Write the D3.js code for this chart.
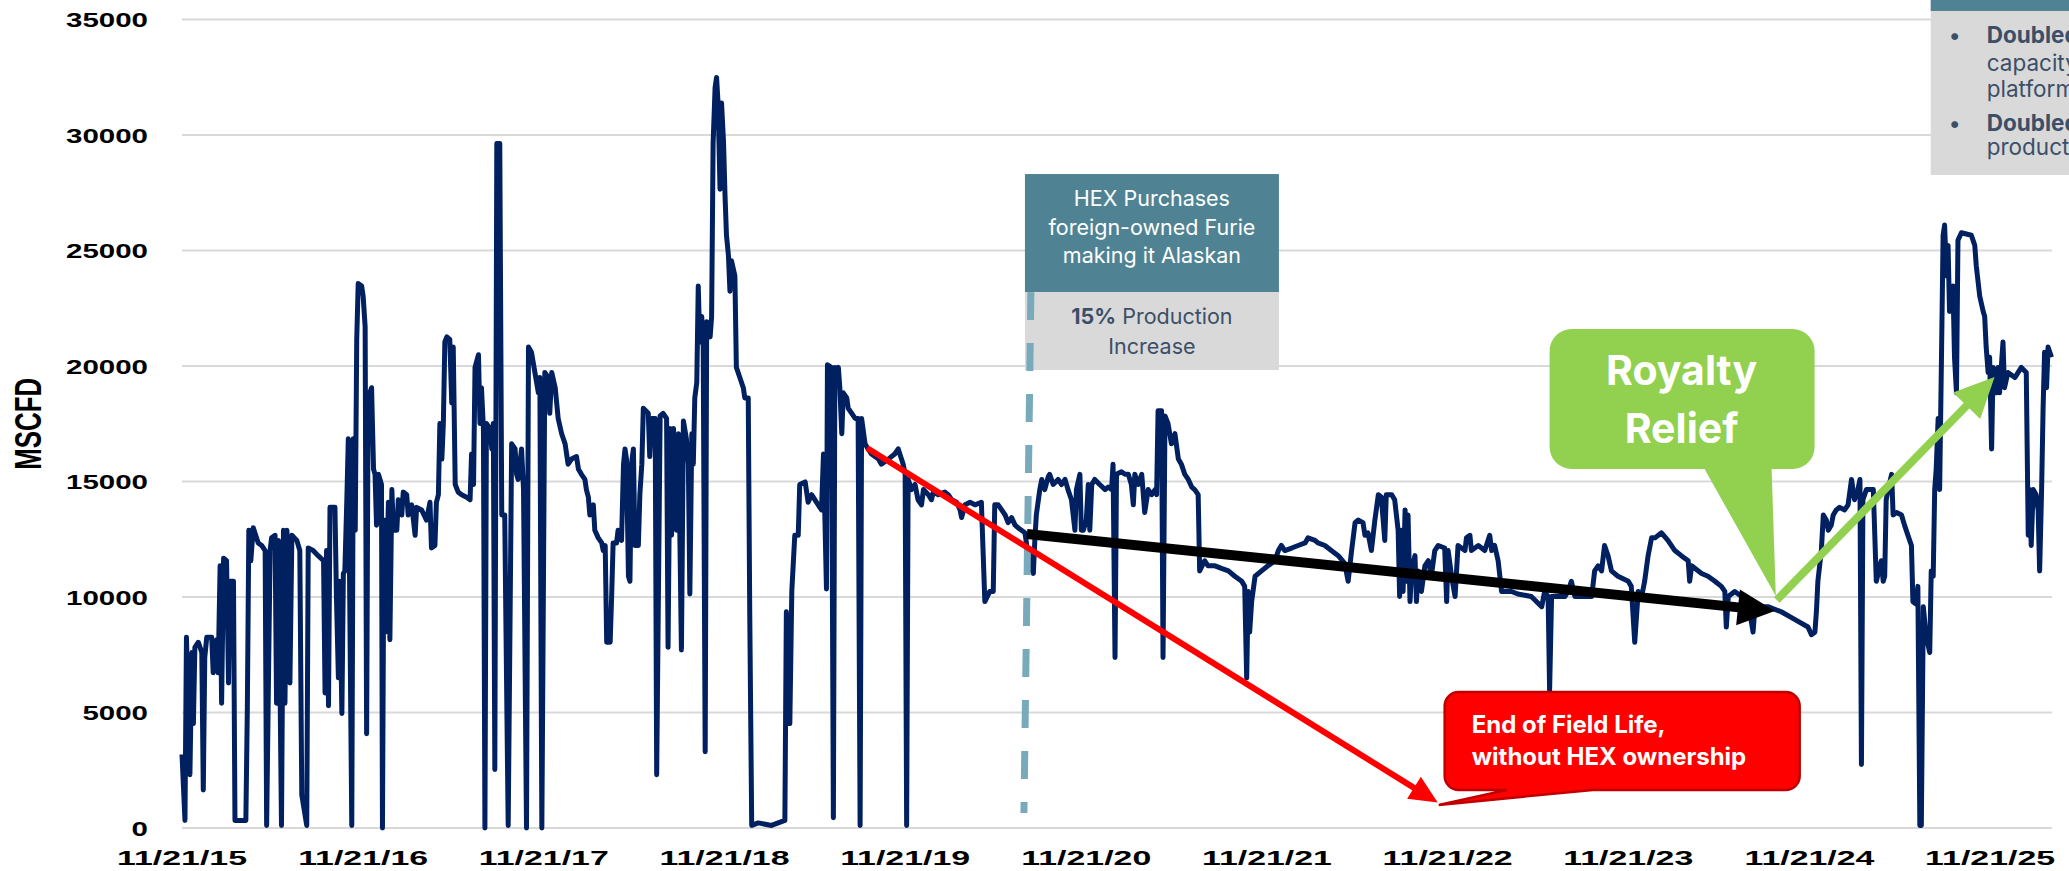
<!DOCTYPE html>
<html>
<head>
<meta charset="utf-8">
<script src="https://cdn.jsdelivr.net/npm/d3@7"></script>
<style>
  html, body { margin:0; padding:0; background:#fff; overflow:hidden; }
  svg { display:block; }
</style>
</head>
<body>
<div id="chart"></div>
<script>
// x values are days counted from 11/21/15, y values in MSCFD
var startLabel = "11/21/15";
var lastDay = 3778;
var tickLabels = ["11/21/15","11/21/16","11/21/17","11/21/18","11/21/19","11/21/20",
                  "11/21/21","11/21/22","11/21/23","11/21/24","11/21/25"];
var yTicks = [0,5000,10000,15000,20000,25000,30000,35000];

var dailyFlow = [
  [0,3190],[6,330],[9,8260],[16,2310],[20,7600],[23,4520],[26,7820],[33,8040],[40,7600],[43,1650],
  [46,7380],[50,8260],[60,8260],[63,6720],[70,8150],[73,6720],[77,11350],[80,5400],[84,11680],[90,11570],
  [94,6280],[97,10680],[104,10680],[107,330],[114,330],[129,330],[132,5180],[135,12890],[139,11570],[144,13000],
  [154,12340],[161,12230],[168,12010],[171,110],[178,12010],[181,12560],[188,12670],[191,5400],[195,12450],[201,110],
  [205,12890],[208,5400],[212,12890],[218,6280],[222,12670],[232,12450],[238,12010],[242,1430],[252,110],[255,12120],
  [265,12010],[275,11790],[286,11570],[289,5840],[292,12010],[296,5290],[299,13880],[309,13880],[312,10020],[316,6500],
  [319,10680],[323,4960],[326,11020],[329,11130],[333,14210],[336,16850],[343,110],[346,16850],[350,12890],[353,21150],
  [356,23570],[363,23460],[366,23020],[370,21700],[373,4080],[376,18620],[383,19060],[387,15530],[390,15310],[393,13110],
  [397,15310],[403,14870],[405,0],[408,13330],[411,8480],[417,14100],[420,8150],[424,14650],[427,12890],[434,12890],
  [437,14210],[444,13550],[447,14540],[454,14430],[457,13550],[464,13990],[471,12670],[474,13880],[484,13770],[494,13330],
  [501,14100],[504,12120],[511,12230],[514,14100],[518,14430],[521,17510],[525,15970],[528,17510],[531,21040],[535,21260],
  [541,21150],[545,18400],[548,20820],[552,14870],[558,14540],[565,14430],[575,14320],[582,14210],[585,16190],[589,14870],
  [592,19940],[599,20490],[602,17510],[605,19060],[609,17290],[612,0],[615,17510],[622,17290],[626,16410],[629,17510],
  [632,2530],[636,29630],[642,29630],[646,13550],[652,13550],[659,110],[666,16630],[673,16410],[676,15310],[679,15090],
  [686,16410],[690,14650],[696,0],[700,20820],[706,20600],[713,19720],[720,18840],[723,19500],[727,0],
  [733,19720],[740,19500],[743,17950],[747,19720],[754,19060],[760,17730],[767,17070],[774,16630],[780,15750],[787,15970],
  [797,16080],[801,15530],[807,15310],[814,15090],[817,14650],[821,14320],[824,13550],[831,13990],[834,12890],[841,12560],
  [848,12340],[851,12010],[855,12230],[858,8040],[865,8040],[868,10020],[871,12340],[878,12340],[881,12890],[888,12450],
  [892,15750],[895,16410],[898,15970],[902,10900],[905,10680],[908,15750],[912,16410],[915,12230],[922,12230],[925,14430],
  [929,15750],[932,18170],[942,17950],[945,16080],[949,17730],[956,17730],[959,2310],[966,17840],[972,17950],[979,17730],
  [982,7820],[986,17290],[989,12670],[993,17290],[999,12890],[1003,17070],[1009,7710],[1013,17620],[1019,16850],[1023,15750],
  [1026,10130],[1030,17070],[1033,15750],[1036,18620],[1040,19280],[1043,23460],[1046,21040],[1050,22140],[1053,20820],[1057,3300],
  [1060,21920],[1067,21260],[1070,22140],[1073,29630],[1077,32050],[1080,32490],[1083,31390],[1087,27650],[1090,31390],[1094,29740],
  [1097,27430],[1100,25660],[1104,24780],[1107,23240],[1110,24560],[1117,23900],[1120,19940],[1127,19500],[1134,19060],[1137,18620],
  [1144,18620],[1147,9360],[1151,110],[1164,220],[1191,110],[1218,330],[1221,9360],[1228,4520],[1232,10240],[1238,12670],
  [1245,12670],[1248,14870],[1259,14980],[1265,14100],[1272,14430],[1282,14100],[1292,13770],[1296,16190],[1302,10350],[1304,20050],
  [1312,19940],[1316,440],[1319,19940],[1322,19280],[1326,19940],[1329,19060],[1333,17070],[1336,18840],[1343,18620],[1346,18170],
  [1353,17950],[1360,17730],[1366,17730],[1370,110],[1373,17730],[1380,16630],[1386,16410],[1393,16190],[1407,15970],[1413,15750],
  [1427,15970],[1440,16190],[1447,16410],[1457,15750],[1461,15310],[1464,110],[1467,15090],[1474,14650],[1481,14870],
  [1487,14210],[1494,13990],[1498,14650],[1508,14430],[1514,14210],[1518,14540],[1528,14430],[1541,14540],[1548,14430],[1555,14210],
  [1565,14100],[1572,13770],[1575,13440],[1582,13990],[1592,14100],[1602,13990],[1615,14100],[1622,9800],[1632,10240],[1639,10240],
  [1642,13990],[1649,13990],[1656,13770],[1663,13550],[1669,13220],[1676,13440],[1683,13110],[1689,13000],[1696,12890],[1703,12780],
  [1706,12340],[1710,11130],[1713,12010],[1716,11350],[1720,11020],[1723,12450],[1726,13550],[1733,14650],[1737,15090],[1743,14650],
  [1750,15200],[1753,15310],[1760,14870],[1770,15090],[1777,14870],[1784,15090],[1790,14650],[1797,14210],[1804,12890],[1807,14650],
  [1814,15310],[1817,12890],[1821,12890],[1827,13330],[1831,14870],[1834,12890],[1838,14870],[1844,15090],[1854,14870],[1865,14650],
  [1871,14760],[1878,14650],[1881,15750],[1885,7380],[1888,15310],[1898,15420],[1905,15310],[1912,15310],[1918,14870],[1922,13990],
  [1925,15310],[1932,14870],[1939,15310],[1945,13660],[1952,14650],[1959,14430],[1966,14650],[1969,14430],[1972,18060],[1979,18060],
  [1982,7380],[1986,17840],[1992,17510],[1999,16630],[2006,17070],[2013,15970],[2019,15750],[2026,15310],[2033,15090],[2040,14760],
  [2046,14650],[2053,14430],[2056,11130],[2066,11570],[2073,11350],[2087,11350],[2100,11240],[2114,11130],[2127,10900],[2141,10680],
  [2147,10460],[2151,6500],[2154,10240],[2157,8480],[2161,9800],[2168,10900],[2181,11130],[2194,11350],[2208,11570],[2215,12010],
  [2221,12230],[2228,12010],[2242,12120],[2255,12230],[2269,12340],[2275,12560],[2289,12450],[2295,12340],[2309,12230],[2322,12010],
  [2336,11790],[2349,11460],[2356,10680],[2363,12010],[2370,13220],[2376,13330],[2386,13220],[2390,12670],[2396,12780],[2403,12010],
  [2410,13330],[2417,14430],[2423,14320],[2430,12450],[2433,14430],[2444,14430],[2450,14210],[2457,12890],[2460,10020],[2464,12890],
  [2467,10240],[2471,13770],[2474,10680],[2477,13550],[2481,9800],[2484,11130],[2491,11790],[2494,9800],[2497,11130],[2504,10240],
  [2511,11350],[2518,11570],[2524,10900],[2531,12010],[2538,12230],[2551,12120],[2555,9800],[2558,12010],[2565,10900],[2572,10020],
  [2578,12230],[2592,12010],[2595,12560],[2602,12670],[2605,12010],[2619,12230],[2632,12010],[2642,12670],[2646,12010],[2652,12230],
  [2659,11570],[2666,10240],[2686,10240],[2699,10130],[2726,10020],[2747,9580],[2753,10240],[2760,10020],[2763,5950],[2767,10020],
  [2794,10020],[2800,10240],[2807,10680],[2814,10020],[2834,10020],[2848,10020],[2854,11130],[2861,11350],[2868,11130],[2874,12230],
  [2881,11790],[2888,11130],[2901,10900],[2922,10680],[2928,10460],[2935,8040],[2942,10240],[2949,10020],[2955,10680],[2962,11790],
  [2969,12560],[2976,12560],[2989,12780],[3002,12450],[3016,12010],[3029,11790],[3043,11570],[3046,10680],[3050,11350],[3070,11020],
  [3083,10900],[3097,10680],[3110,10460],[3117,10240],[3120,8700],[3124,10020],[3137,10240],[3151,10020],[3164,9800],[3174,8480],
  [3178,9580],[3204,9580],[3231,9360],[3258,9030],[3285,8700],[3292,8370],[3299,8480],[3302,9360],[3305,10680],[3312,12010],
  [3316,13550],[3322,13330],[3326,12890],[3332,13110],[3336,13550],[3342,13770],[3349,13880],[3359,13770],[3366,13990],[3373,15090],
  [3379,14210],[3386,14650],[3390,15090],[3393,2750],[3396,14210],[3403,14650],[3417,14650],[3423,10680],[3433,11570],[3437,10680],
  [3440,10900],[3443,14210],[3447,14650],[3454,15310],[3457,13550],[3464,13660],[3474,13550],[3480,13110],[3487,12670],[3494,12230],
  [3497,9800],[3504,9690],[3507,10460],[3511,110],[3514,110],[3518,9580],[3524,8260],[3531,7600],[3534,11130],[3538,10900],
  [3541,14650],[3544,15530],[3548,17730],[3551,14650],[3555,20820],[3558,25660],[3561,26100],[3565,23900],[3568,25220],[3571,22360],
  [3575,23020],[3578,23460],[3581,20380],[3585,18840],[3588,25440],[3595,25770],[3615,25660],[3622,25220],[3625,24340],[3632,23020],
  [3639,22360],[3642,22140],[3645,20820],[3649,19720],[3652,20380],[3656,16410],[3659,19940],[3666,18840],[3669,19940],[3672,18840],
  [3679,21040],[3682,19060],[3689,19720],[3703,19500],[3716,19940],[3726,19720],[3730,12670],[3733,14650],[3736,12230],[3740,14650],
  [3746,14430],[3750,13770],[3753,11130],[3757,14650],[3760,18170],[3763,20600],[3767,19060],[3770,20820],[3777,20380]
];

// trend arrows and markers, as [day, MSCFD]
var withoutHexTrend = [[1384,16450],[2537,1100]];
var withHexTrend = [[1707,12730],[3218,9390]];
var royaltyTrend = [[3222,9870],[3662,19520]];
var hexPurchase = [[1715,23200],[1701,650]];

var W = 2069, H = 871;
var margin = {top:19.5, right:17, bottom:43, left:182};

var svg = d3.select("#chart")
  .append("svg")
  .attr("width",W)
  .attr("height",H);

var parseDate = d3.timeParse("%m/%d/%y");
var t0 = parseDate(startLabel);
function dayDate(n){ return d3.timeDay.offset(t0, n); }

var x = d3.scaleTime()
  .domain([t0, dayDate(lastDay)])
  .range([margin.left, W - margin.right]);
var y = d3.scaleLinear()
  .domain([0,35000])
  .range([H - margin.bottom, margin.top]);

function px(p){ return [x(dayDate(p[0])), y(p[1])]; }

// gridlines
svg.append("g").selectAll("line.grid")
  .data(yTicks)
  .enter()
  .append("line")
  .attr("class","grid")
  .attr("x1",x.range()[0])
  .attr("x2",x.range()[1])
  .attr("y1",function(d){ return y(d); })
  .attr("y2",function(d){ return y(d); })
  .style("stroke","#d9d9d9")
  .style("stroke-width",2);

// y labels (the original picture is stretched sideways)
svg.append("g").selectAll("text.ylab")
  .data(yTicks)
  .enter()
  .append("text")
  .attr("class","ylab")
  .attr("x",148)
  .attr("y",function(d){ return y(d); })
  .attr("dy","0.36em")
  .attr("text-anchor","end")
  .attr("textLength",function(d){ return String(d).length*16.4; })
  .attr("lengthAdjust","spacingAndGlyphs")
  .style("font-family","'Liberation Sans', Arial, sans-serif")
  .style("font-weight","bold")
  .style("font-size","21px")
  .style("fill","#000")
  .text(function(d){ return d; });

// x labels
svg.append("g").selectAll("text.xlab")
  .data(tickLabels)
  .enter()
  .append("text")
  .attr("class","xlab")
  .attr("x",function(d){ return x(parseDate(d)); })
  .attr("y",865)
  .attr("text-anchor","middle")
  .attr("textLength",130)
  .attr("lengthAdjust","spacingAndGlyphs")
  .style("font-family","'Liberation Sans', Arial, sans-serif")
  .style("font-weight","bold")
  .style("font-size","21px")
  .style("fill","#000")
  .text(function(d){ return d; });

svg.append("text")
  .attr("transform","translate(41,"+((y.range()[0]+y.range()[1])/2)+") rotate(-90)")
  .attr("text-anchor","middle")
  .attr("textLength",92)
  .attr("lengthAdjust","spacingAndGlyphs")
  .style("font-family","'Liberation Sans Narrow', 'Liberation Sans', Arial, sans-serif")
  .style("font-weight","bold")
  .style("font-size","36px")
  .style("fill","#000")
  .text("MSCFD");

// production line
var line = d3.line()
  .x(function(d){ return x(dayDate(d[0])); })
  .y(function(d){ return y(d[1]); });

svg.append("path")
  .datum(dailyFlow)
  .attr("d",line)
  .style("fill","none")
  .style("stroke","#002060")
  .style("stroke-width",5)
  .style("stroke-linejoin","round");

// HEX purchase box
var boxFont = "Inter, 'Open Sans', sans-serif";
var hexTop = px([1703,28310]);
var hexG = svg.append("g").attr("transform","translate("+hexTop[0]+","+hexTop[1]+")");
hexG.append("rect").attr("width",254).attr("height",118).style("fill","#4f8393");
hexG.append("rect").attr("y",118).attr("width",254).attr("height",78).style("fill","#d9d9d9");
var hexLines = ["HEX Purchases","foreign-owned Furie","making it Alaskan"];
hexG.selectAll("text.hex")
  .data(hexLines)
  .enter()
  .append("text")
  .attr("x",127)
  .attr("y",function(d,i){ return 32 + i*28.5; })
  .attr("text-anchor","middle")
  .style("font-family",boxFont)
  .style("font-size","21.5px")
  .style("fill","#fff")
  .text(function(d){ return d; });
var pct = hexG.append("text")
  .attr("x",127).attr("y",150)
  .attr("text-anchor","middle")
  .style("font-family",boxFont)
  .style("font-size","21.5px")
  .style("fill","#3b4f68");
pct.append("tspan").style("font-weight","bold").text("15%");
pct.append("tspan").text(" Production");
hexG.append("text")
  .attr("x",127).attr("y",180)
  .attr("text-anchor","middle")
  .style("font-family",boxFont)
  .style("font-size","21.5px")
  .style("fill","#3b4f68")
  .text("Increase");

// dashed marker at the purchase
var hp0 = px(hexPurchase[0]), hp1 = px(hexPurchase[1]);
svg.append("line")
  .attr("x1",hp0[0]).attr("y1",hp0[1])
  .attr("x2",hp1[0]).attr("y2",hp1[1])
  .style("stroke","#79aabb")
  .style("stroke-width",7)
  .style("stroke-dasharray","28,23");

function arrow(pts, color, w, headLen, headW){
  var a = px(pts[0]), b = px(pts[1]);
  var dx = b[0]-a[0], dy = b[1]-a[1], L = Math.sqrt(dx*dx+dy*dy);
  var ux = dx/L, uy = dy/L;
  var bx = b[0]-ux*headLen, by = b[1]-uy*headLen;
  svg.append("line")
    .attr("x1",a[0]).attr("y1",a[1])
    .attr("x2",bx+ux*3).attr("y2",by+uy*3)
    .style("stroke",color)
    .style("stroke-width",w);
  svg.append("path")
    .attr("d","M"+b[0]+","+b[1]+
      "L"+(bx-uy*headW/2)+","+(by+ux*headW/2)+
      "L"+(bx+uy*headW/2)+","+(by-ux*headW/2)+"Z")
    .style("fill",color);
}

arrow(withoutHexTrend,"#ff0000",6,28,26);
arrow(withHexTrend,"#000000",10,37,36);

// callout: rounded box with a pointer from its bottom edge
function callout(x0,y0,w,h,r,ta,tb,tip){
  var x1 = x0+w, y1 = y0+h;
  return "M"+(x0+r)+","+y0+"H"+(x1-r)+"A"+r+","+r+" 0 0 1 "+x1+","+(y0+r)+
    "V"+(y1-r)+"A"+r+","+r+" 0 0 1 "+(x1-r)+","+y1+
    "H"+(x0+tb)+"L"+tip[0]+","+tip[1]+"L"+(x0+ta)+","+y1+
    "H"+(x0+r)+"A"+r+","+r+" 0 0 1 "+x0+","+(y1-r)+
    "V"+(y0+r)+"A"+r+","+r+" 0 0 1 "+(x0+r)+","+y0+"Z";
}

// Royalty Relief
var gTop = px([2763,21600]);
svg.append("path")
  .attr("d",callout(gTop[0],gTop[1],265,140,22,155,222,px([3220,10040])))
  .style("fill","#92d050");
svg.selectAll("text.royal")
  .data(["Royalty","Relief"])
  .enter()
  .append("text")
  .attr("x",gTop[0]+132)
  .attr("y",function(d,i){ return gTop[1]+56+i*58; })
  .attr("text-anchor","middle")
  .style("font-family",boxFont)
  .style("font-weight","bold")
  .style("font-size","41px")
  .style("fill","#fff")
  .text(function(d){ return d; });

arrow(royaltyTrend,"#92d050",8,40,38);

// End of field life
var rTop = px([2551,5890]);
svg.append("path")
  .attr("d",callout(rTop[0],rTop[1],355,98,14,62,148,px([2539,1000])))
  .style("fill","#ff0000")
  .style("stroke","#c00000")
  .style("stroke-width",2.5);
svg.selectAll("text.red")
  .data(["End of Field Life,","without HEX ownership"])
  .enter()
  .append("text")
  .attr("x",rTop[0]+27)
  .attr("y",function(d,i){ return rTop[1]+41+i*32; })
  .style("font-family",boxFont)
  .style("font-weight","bold")
  .style("font-size","24px")
  .style("fill","#fff")
  .text(function(d){ return d; });

// platform box, cut off by the right edge as in the slide
var pb = px([3533,28270]);
var pbG = svg.append("g").attr("transform","translate("+pb[0]+","+pb[1]+")");
pbG.append("rect").attr("y",-200).attr("width",200).attr("height",200).style("fill","#d9d9d9");
pbG.append("rect").attr("y",-200).attr("width",200).attr("height",36).style("fill","#4f8393");
var pbLines = [
  {t:"Doubled", b:true, y:-132, dot:true},
  {t:"capacity", b:false, y:-104},
  {t:"platform", b:false, y:-78},
  {t:"Doubled", b:true, y:-44, dot:true},
  {t:"production", b:false, y:-20}
];
pbG.selectAll("text.pb")
  .data(pbLines)
  .enter()
  .append("text")
  .attr("x",56)
  .attr("y",function(d){ return d.y; })
  .style("font-family",boxFont)
  .style("font-size","22.5px")
  .style("font-weight",function(d){ return d.b ? "bold" : "normal"; })
  .style("fill","#3b4f68")
  .text(function(d){ return d.t; });
pbG.selectAll("text.dot")
  .data(pbLines.filter(function(d){ return d.dot; }))
  .enter()
  .append("text")
  .attr("x",24)
  .attr("y",function(d){ return d.y; })
  .attr("text-anchor","middle")
  .style("font-family",boxFont)
  .style("font-size","22px")
  .style("fill","#3b4f68")
  .text("\u2022");
</script>
</body>
</html>
